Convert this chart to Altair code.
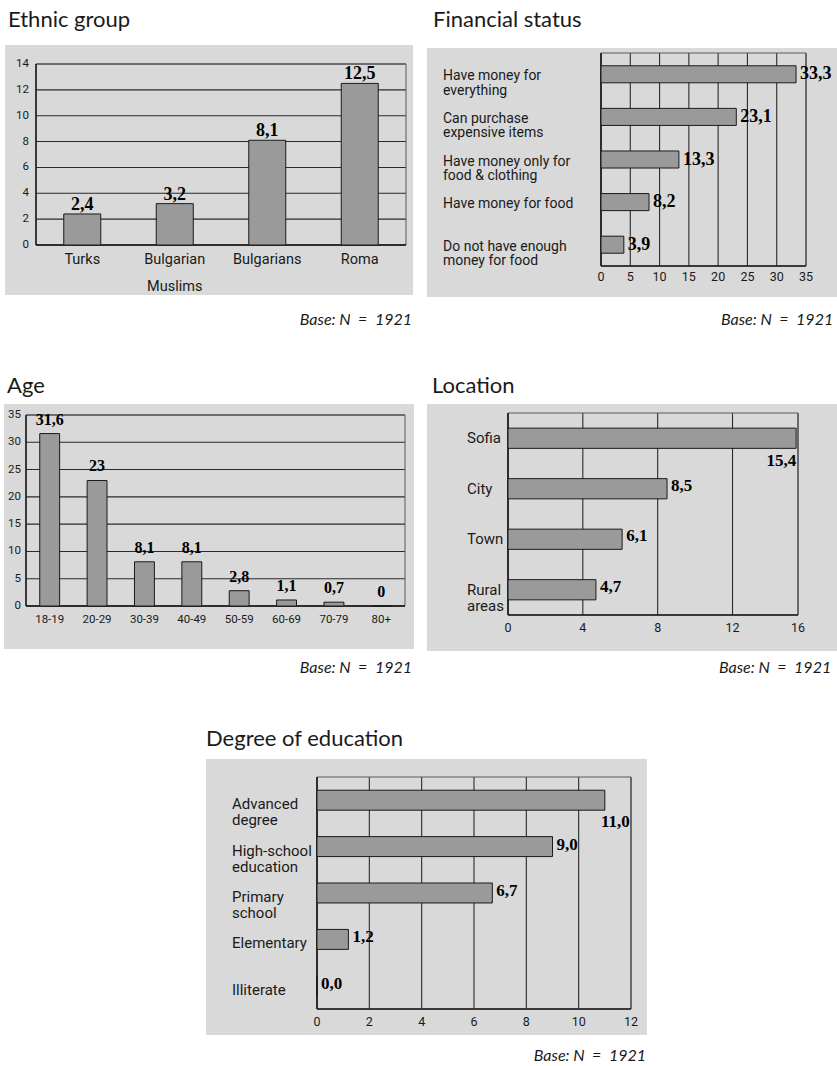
import altair as alt
import pandas as pd

# ---------------- survey shares (percent) ----------------
ethnic_groups = ["Turks", "Bulgarian\nMuslims", "Bulgarians", "Roma"]
ethnic_share = [2.4, 3.2, 8.1, 12.5]
ethnic_ticks = [0, 2, 4, 6, 8, 10, 12, 14]

finance_groups = [
    "Have money for\neverything",
    "Can purchase\nexpensive items",
    "Have money only for\nfood & clothing",
    "Have money for food",
    "Do not have enough\nmoney for food",
]
finance_share = [33.3, 23.1, 13.3, 8.2, 3.9]
finance_ticks = [0, 5, 10, 15, 20, 25, 30, 35]

age_groups = ["18-19", "20-29", "30-39", "40-49", "50-59", "60-69", "70-79", "80+"]
age_share = [31.6, 23, 8.1, 8.1, 2.8, 1.1, 0.7, 0]
age_ticks = [0, 5, 10, 15, 20, 25, 30, 35]

location_groups = ["Sofia", "City", "Town", "Rural\nareas"]
location_share = [15.4, 8.5, 6.1, 4.7]
location_ticks = [0, 4, 8, 12, 16]

education_groups = [
    "Advanced\ndegree",
    "High-school\neducation",
    "Primary\nschool",
    "Elementary",
    "Illiterate",
]
education_share = [11.0, 9.0, 6.7, 1.2, 0.0]
education_ticks = [0, 2, 4, 6, 8, 10, 12]

base_note = "Base: N\u00a0\u00a0=\u00a0\u00a01921"


def comma_1(v):
    return f"{v:.1f}".replace(".", ",")


def comma_g(v):
    return f"{v:g}".replace(".", ",")


# ---------------- page styling ----------------
PAGE_W, PAGE_H = 837, 1066
PANEL_BG = "#d9d9d9"
BAR_FILL = "#9a9a9a"
INK = "#1a1a1a"
GRID = "#2a2a2a"
FRAME = "#5a5a5a"

NARROW = "Roboto, Liberation Sans, sans-serif"
SERIF = "Liberation Serif, Times New Roman, serif"
HEAD = "Lato, Open Sans, sans-serif"


def one_row(**cols):
    return pd.DataFrame({k: [v] for k, v in cols.items()})


def backdrop(box):
    x0, y0, x1, y1 = box
    return alt.Chart(one_row(k=0)).mark_rect(fill=PANEL_BG).encode(
        x=alt.value(x0), x2=alt.value(x1), y=alt.value(y0), y2=alt.value(y1)
    )


def caption(text, x, y, size, align="left", italic=False):
    return alt.Chart(one_row(t=text)).mark_text(
        font=HEAD, fontSize=size, align=align, baseline="alphabetic",
        fontStyle="italic" if italic else "normal", color=INK,
    ).encode(x=alt.value(x), y=alt.value(y), text="t:N")


def frame(plot):
    l, t, r, b = plot
    d = one_row(k=0)
    box = alt.Chart(d).mark_rect(fillOpacity=0, stroke=FRAME, strokeWidth=1).encode(
        x=alt.value(l), x2=alt.value(r), y=alt.value(t), y2=alt.value(b)
    )
    left_ax = alt.Chart(d).mark_rule(color=INK, strokeWidth=1.5).encode(
        x=alt.value(l), y=alt.value(t), y2=alt.value(b)
    )
    bottom_ax = alt.Chart(d).mark_rule(color=INK, strokeWidth=1.5).encode(
        x=alt.value(l), x2=alt.value(r), y=alt.value(b)
    )
    return [box, left_ax, bottom_ax]


def column_panel(groups, share, labels, ticks, plot, pad, tick_size, tick_gap,
                 cat_size, cat_y, cat_baseline, cat_line, value_size, value_dy):
    l, t, r, b = plot
    bars = pd.DataFrame({"group": groups, "share": share, "label": labels})
    grid = pd.DataFrame({"tick": ticks})
    xs = alt.Scale(domain=groups, range=[l, r], paddingInner=pad, paddingOuter=pad / 2)
    ys = alt.Scale(domain=[ticks[0], ticks[-1]], range=[b, t], nice=False)
    X = alt.X("group:N", scale=xs, axis=None)

    gridlines = alt.Chart(grid).mark_rule(color=GRID, strokeWidth=1.1).encode(
        y=alt.Y("tick:Q", scale=ys, axis=None), x=alt.value(l), x2=alt.value(r)
    )
    tick_text = alt.Chart(grid).mark_text(
        font=NARROW, fontSize=tick_size, align="right", baseline="middle", color=INK
    ).encode(y=alt.Y("tick:Q", scale=ys, axis=None), x=alt.value(l - tick_gap), text="tick:N")
    cols = alt.Chart(bars).mark_bar(fill=BAR_FILL, stroke=INK, strokeWidth=1).encode(
        x=X, y=alt.Y("share:Q", scale=ys, axis=None)
    )
    values = alt.Chart(bars).mark_text(
        font=SERIF, fontWeight="bold", fontSize=value_size, baseline="alphabetic",
        dy=value_dy, color="#000000",
    ).encode(x=X, y=alt.Y("share:Q", scale=ys, axis=None), text="label:N")
    names = alt.Chart(bars).mark_text(
        font=NARROW, fontSize=cat_size, baseline=cat_baseline, lineBreak="\n",
        lineHeight=cat_line, color=INK,
    ).encode(x=X, y=alt.value(cat_y), text="group:N")
    return [gridlines, *frame(plot), cols, values, tick_text, names]


def bar_panel(groups, share, labels, ticks, plot, pad, domain_max, tick_size, tick_y,
              cat_x, cat_size, cat_line, cat_dy, value_size, value_dx, value_dy,
              below_from=None, below_dx=0, below_dy=0):
    l, t, r, b = plot
    bars = pd.DataFrame({"group": groups, "share": share, "label": labels})
    grid = pd.DataFrame({"tick": ticks})
    ys = alt.Scale(domain=groups, range=[t, b], paddingInner=pad, paddingOuter=pad / 2)
    xs = alt.Scale(domain=[0, domain_max], range=[l, r], nice=False, clamp=True)
    Y = alt.Y("group:N", scale=ys, axis=None)
    XV = alt.X("share:Q", scale=xs, axis=None)

    gridlines = alt.Chart(grid).mark_rule(color=GRID, strokeWidth=1.1).encode(
        x=alt.X("tick:Q", scale=xs, axis=None), y=alt.value(t), y2=alt.value(b)
    )
    tick_text = alt.Chart(grid).mark_text(
        font=NARROW, fontSize=tick_size, align="center", baseline="middle", color=INK
    ).encode(x=alt.X("tick:Q", scale=xs, axis=None), y=alt.value(tick_y), text="tick:N")
    hbars = alt.Chart(bars).mark_bar(fill=BAR_FILL, stroke=INK, strokeWidth=1).encode(
        y=Y, x=XV
    )
    inside = alt.Chart(bars)
    if below_from is not None:
        inside = inside.transform_filter(alt.datum.share < below_from)
    values = inside.mark_text(
        font=SERIF, fontWeight="bold", fontSize=value_size, align="left",
        baseline="middle", dx=value_dx, dy=value_dy, color="#000000",
    ).encode(y=Y, x=XV, text="label:N")
    names = alt.Chart(bars).mark_text(
        font=NARROW, fontSize=cat_size, align="left", baseline="middle",
        lineBreak="\n", lineHeight=cat_line, dy=cat_dy, color=INK,
    ).encode(y=Y, x=alt.value(cat_x), text="group:N")
    out = [gridlines, *frame(plot), hbars, values, tick_text, names]
    if below_from is not None:
        # long bars carry their value under the bar end
        out.append(
            alt.Chart(bars).transform_filter(alt.datum.share >= below_from).mark_text(
                font=SERIF, fontWeight="bold", fontSize=value_size, align="right",
                baseline="alphabetic", dx=below_dx, dy=below_dy, color="#000000",
            ).encode(y=Y, x=XV, text="label:N")
        )
    return out


panels = []

# Ethnic group
panels.append(alt.layer(
    backdrop((5, 45, 413, 295)),
    caption("Ethnic group", 8, 27, 22),
    caption(base_note, 412, 325, 16, align="right", italic=True),
    *column_panel(ethnic_groups, ethnic_share, [comma_1(v) for v in ethnic_share],
                  ethnic_ticks, (36, 64, 406, 245), 0.6, 11.5, 7,
                  14.5, 253, "top", 27, 18, -4),
))

# Financial status
panels.append(alt.layer(
    backdrop((427, 48, 837, 297)),
    caption("Financial status", 433, 27, 22),
    caption(base_note, 721, 325, 16, italic=True),
    *bar_panel(finance_groups, finance_share, [comma_1(v) for v in finance_share],
               finance_ticks, (601, 53, 806, 266), 0.6, 35, 12.5, 277,
               443, 14, 14.5, 2, 18, 4, 0),
))

# Age
panels.append(alt.layer(
    backdrop((4, 404, 414, 649)),
    caption("Age", 7, 393, 22),
    caption(base_note, 412, 673, 16, align="right", italic=True),
    *column_panel(age_groups, age_share, [comma_g(v) for v in age_share],
                  age_ticks, (26, 415, 405, 606), 0.58, 11.5, 5,
                  11.5, 619.5, "middle", 14, 16, -9),
))

# Location
panels.append(alt.layer(
    backdrop((427, 404, 837, 651)),
    caption("Location", 432, 393, 22),
    caption(base_note, 719, 673, 16, italic=True),
    *bar_panel(location_groups, location_share, [comma_1(v) for v in location_share],
               location_ticks, (508, 413, 798, 615), 0.6, 15.5, 12.5, 628,
               467, 15, 16, 0, 17, 4, -3, below_from=14, below_dx=0, below_dy=28),
))

# Degree of education
panels.append(alt.layer(
    backdrop((206, 759, 647, 1035)),
    caption("Degree of education", 206, 746, 22),
    caption(base_note, 646, 1061, 16, align="right", italic=True),
    *bar_panel(education_groups, education_share, [comma_1(v) for v in education_share],
               education_ticks, (317, 777, 631, 1009), 0.57, 12, 12.5, 1022,
               232, 15, 16, 4, 17, 4, -2, below_from=10, below_dx=25, below_dy=27),
))

chart = alt.layer(*panels).resolve_scale(
    x="independent", y="independent"
).properties(
    width=PAGE_W, height=PAGE_H,
    autosize=alt.AutoSizeParams(type="none"),
    padding=0,
    background="white",
).configure_view(stroke=None)

chart.save("out.html", embed_options={"renderer": "svg", "actions": False})
